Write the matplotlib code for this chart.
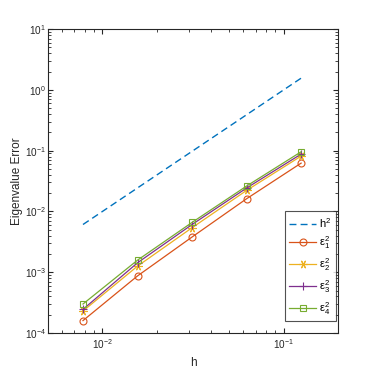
import numpy as np
import matplotlib
matplotlib.use("Agg")
import matplotlib.pyplot as plt

plt.rcParams['font.family'] = ['Liberation Sans', 'DejaVu Sans']
plt.rcParams['mathtext.fontset'] = 'custom'
plt.rcParams['mathtext.rm'] = 'Liberation Sans'
plt.rcParams['mathtext.it'] = 'Liberation Sans:italic'
plt.rcParams['mathtext.default'] = 'regular'

# mesh sizes and eigenvalue errors
h = [1/128, 1/64, 1/32, 1/16, 1/8]
ref_c = 100.0  # reference line is c*h^2
err1 = [1.6e-4, 8.7e-4, 3.8e-3, 0.0162, 0.0625]
err2 = [2.3e-4, 1.26e-3, 5.4e-3, 0.0222, 0.0815]
err3 = [2.45e-4, 1.43e-3, 6.1e-3, 0.0243, 0.088]
err4 = [3.0e-4, 1.58e-3, 6.6e-3, 0.0262, 0.096]

labels = [r'$h^2$', r'$\epsilon_1^2$', r'$\epsilon_2^2$', r'$\epsilon_3^2$', r'$\epsilon_4^2$']

fig = plt.figure(figsize=(3.74, 3.74), dpi=100)
ax = fig.add_axes([0.128, 0.1096, 0.776, 0.8124])

h_arr = np.array(h)
ax.loglog(h_arr, ref_c * h_arr**2, '--', color=(0, 0.447, 0.741), lw=1.0, label=labels[0], dashes=(5, 3))
ax.loglog(h, err1, '-o', color=(0.85, 0.325, 0.098), lw=0.9, ms=5, mfc='none', mew=0.8, label=labels[1])
ax.loglog(h, err2, '-', marker=(6, 2, 90), color=(0.929, 0.694, 0.125), lw=0.9, ms=6, mew=0.8, label=labels[2])
ax.loglog(h, err3, '-+', color=(0.494, 0.184, 0.556), lw=0.9, ms=6, mew=0.8, label=labels[3])
ax.loglog(h, err4, '-s', color=(0.466, 0.674, 0.188), lw=0.9, ms=5, mfc='none', mew=0.8, label=labels[4])

ax.set_xlim(0.005, 0.2)
ax.set_ylim(1e-4, 10)
ax.set_xlabel('h', fontsize=8.5, color='#262626')
ax.set_ylabel('Eigenvalue Error', fontsize=8.5, color='#262626')
ax.yaxis.set_label_coords(-0.085, 0.5)
ax.xaxis.set_label_coords(0.5, -0.08)
ax.tick_params(which='both', direction='in', top=True, right=True, colors='#262626', labelsize=7.2)
ax.tick_params(which='major', length=3.5)
ax.tick_params(which='minor', length=2)
ax.tick_params(axis='y', pad=1.5)
ax.tick_params(axis='x', pad=3)
for s in ax.spines.values():
    s.set_color('#262626')
    s.set_linewidth(0.8)

leg = ax.legend(loc='lower right', bbox_to_anchor=(0.993, 0.039), fontsize=8, frameon=True,
                fancybox=False, edgecolor='#262626', borderaxespad=0, handlelength=2.4,
                labelspacing=0.45, handletextpad=0.3, borderpad=0.4)
leg.get_frame().set_linewidth(0.8)

fig.savefig('out.png', dpi=100)
